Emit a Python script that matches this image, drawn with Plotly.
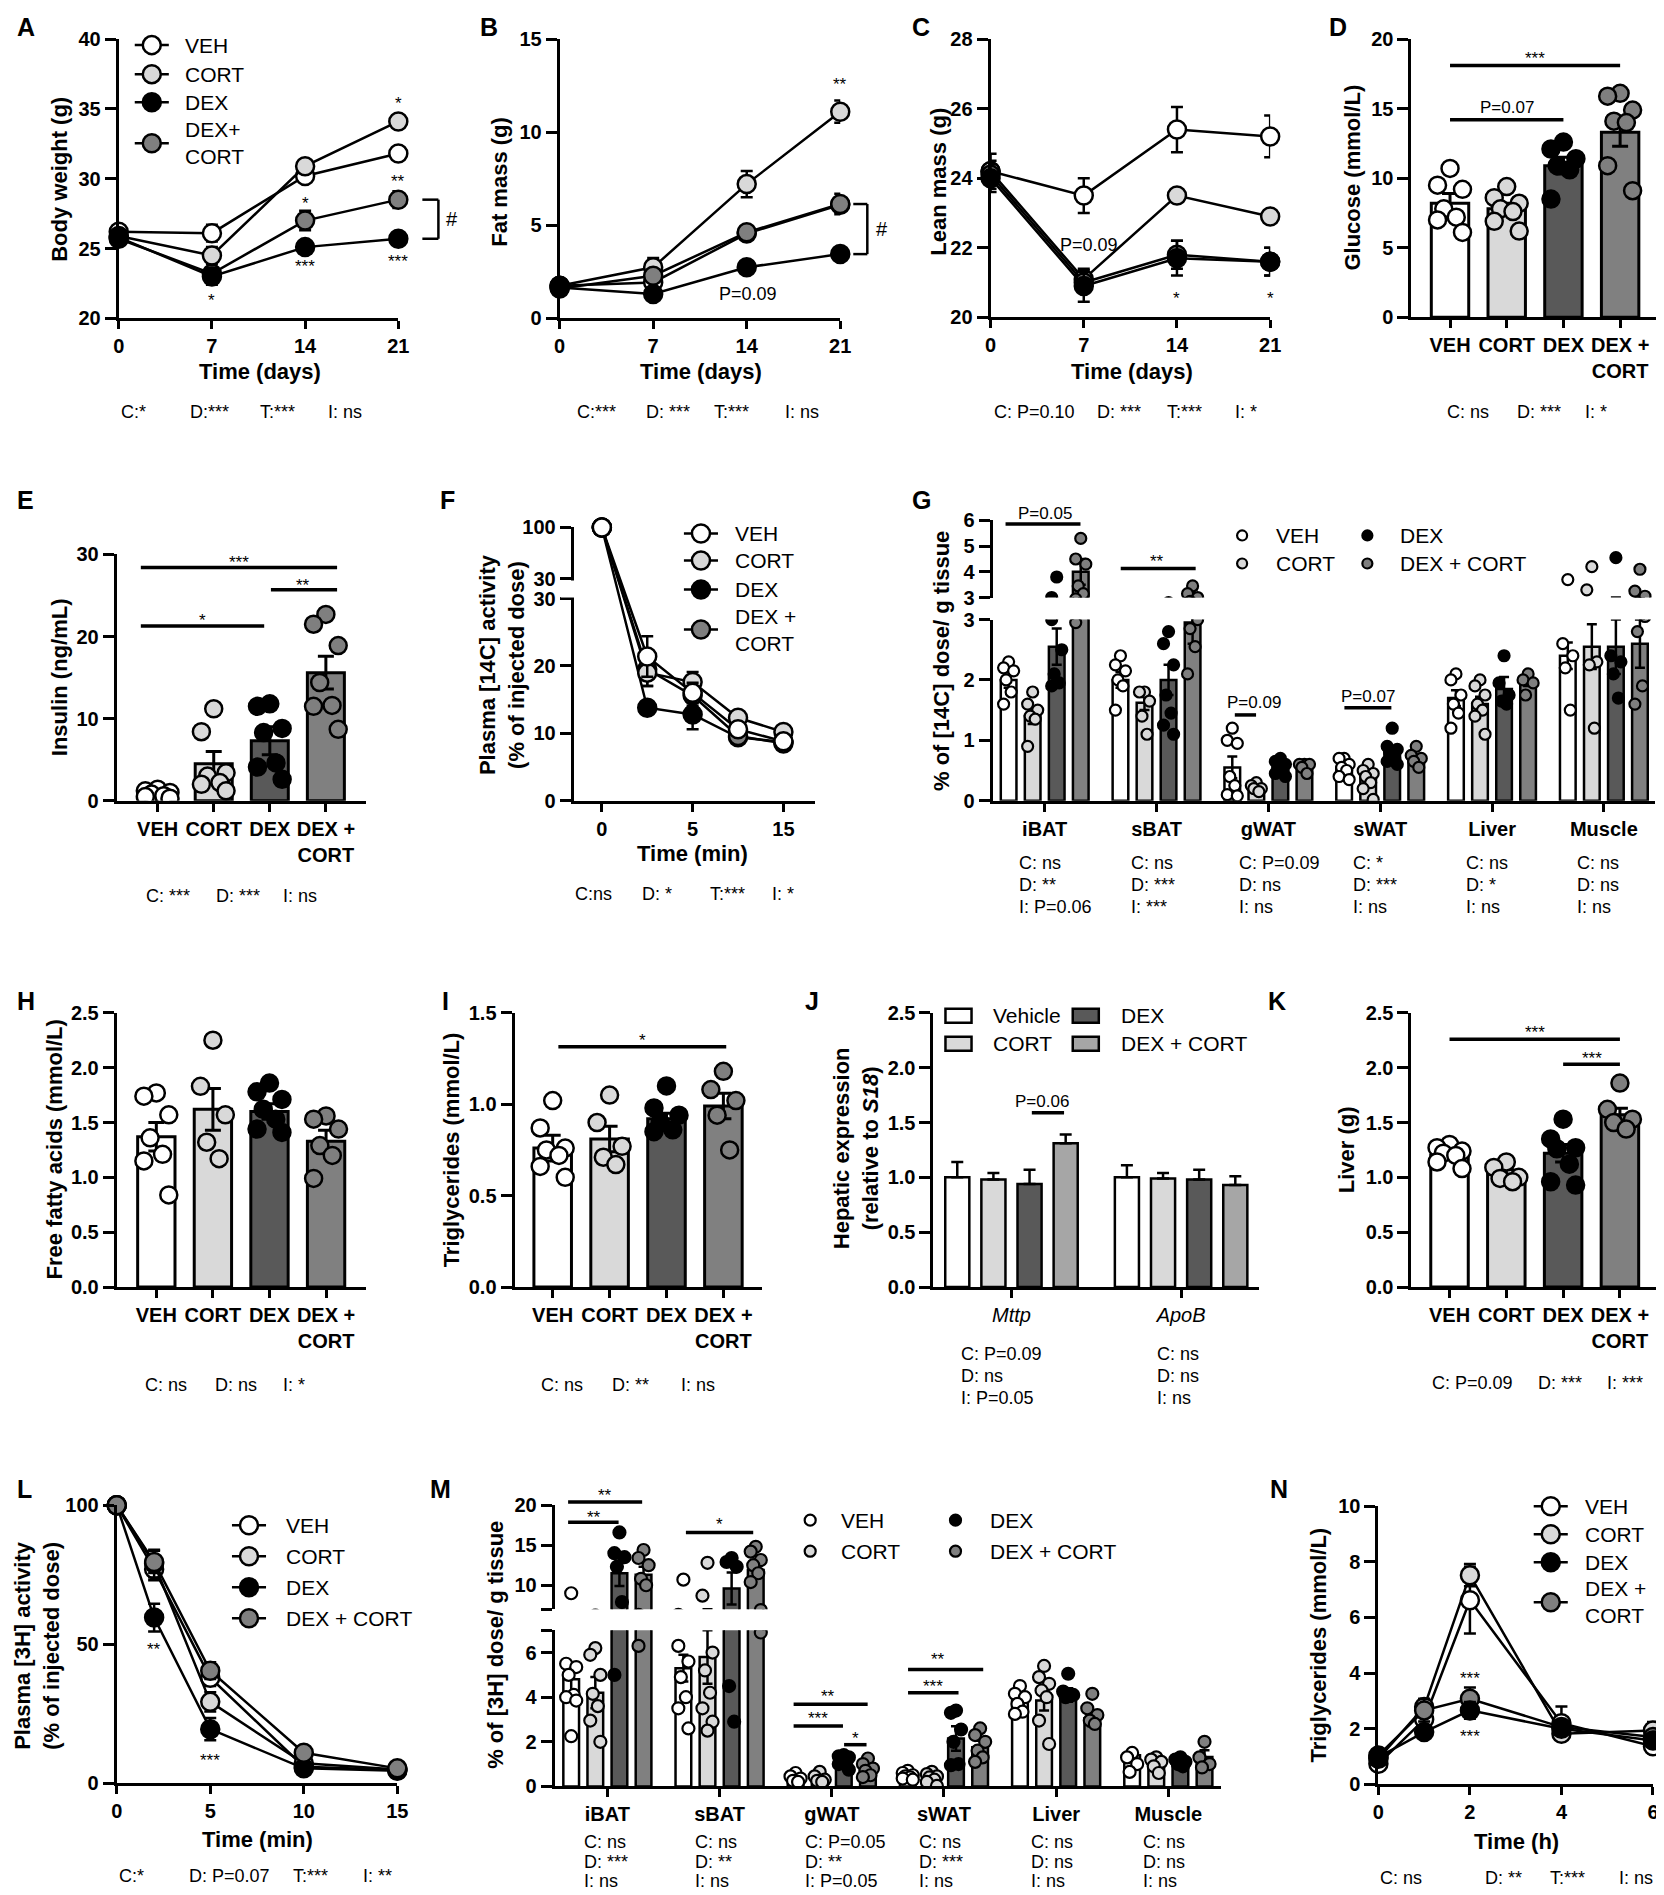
import plotly.graph_objects as go

# the page shows the figure shifted and slightly shrunk; these constants undo that,
# so that all positions below can be given in the pixels of the 1664 x 1895 picture
SHOT_X0, SHOT_Y0, SHOT_SCALE = 14.5, 16.9, 0.9877
W, H = 1666, 1900
FONT = "Liberation Sans, Arial, sans-serif"

GROUPS = ["VEH", "CORT", "DEX", "DEX + CORT"]
LINE_FILL = ["white", "#d9d9d9", "black", "#7f7f7f"]
BAR_FILL = ["white", "#d9d9d9", "#595959", "#808080"]
J_FILL = ["white", "#d9d9d9", "#595959", "#a6a6a6"]
BAR_TICKS = ["VEH", "CORT", "DEX", "DEX +<br>CORT"]

# ---------------- data (group order: VEH, CORT, DEX, DEX + CORT) ----------------
days = [0, 7, 14, 21]
bw_mean = [[26.2, 26.1, 30.2, 31.8], [25.9, 24.5, 30.9, 34.1],
           [25.8, 23.0, 25.1, 25.7], [25.7, 23.2, 27.0, 28.5]]
bw_sem = [[0.3, 0.6, 0.4, 0.3], [0.3, 0.6, 0.5, 0.4],
          [0.3, 0.6, 0.2, 0.3], [0.3, 0.5, 0.7, 0.6]]

fat_mean = [[1.75, 1.93, 4.55, 6.1], [1.75, 2.74, 7.21, 11.1],
            [1.65, 1.31, 2.74, 3.45], [1.6, 2.29, 4.62, 6.14]]
fat_sem = [[0.1, 0.3, 0.3, 0.4], [0.1, 0.5, 0.7, 0.6],
           [0.1, 0.15, 0.15, 0.2], [0.1, 0.3, 0.3, 0.55]]

lean_mean = [[24.2, 23.5, 25.4, 25.2], [24.2, 21.1, 23.5, 22.9],
             [24.0, 20.9, 21.7, 21.6], [24.1, 21.0, 21.8, 21.6]]
lean_sem = [[0.5, 0.5, 0.65, 0.6], [0.3, 0.3, 0.1, 0.15],
            [0.4, 0.45, 0.5, 0.4], [0.3, 0.3, 0.4, 0.4]]

glu_mean = [8.2, 7.8, 10.9, 13.3]
glu_sem = [0.7, 0.4, 0.6, 1.0]
glu_pts = [[10.7, 9.5, 9.2, 7.8, 7.2, 7.0, 6.1], [9.4, 8.6, 8.2, 7.8, 7.6, 6.9, 6.2],
           [12.6, 12.1, 11.4, 10.9, 10.6, 8.5], [16.1, 15.9, 14.9, 14.1, 14.0, 10.9, 9.1]]

ins_mean = [0.85, 4.5, 7.3, 15.6]
ins_sem = [0.2, 1.5, 1.7, 2.0]
ins_pts = [[1.4, 1.2, 1.0, 0.8, 0.6, 0.5, 0.3], [11.2, 8.4, 3.4, 3.0, 2.2, 2.0, 1.2],
           [11.8, 11.5, 8.8, 8.3, 4.6, 4.1, 2.6], [22.7, 21.5, 18.9, 14.4, 11.6, 11.5, 8.7]]

c14_times = [0, 2, 5, 10, 15]
c14_mean = [[100, 21.4, 16.0, 10.6, 8.8], [100, 19.0, 17.6, 12.3, 10.2],
            [100, 13.8, 12.8, 9.4, 8.7], [100, 19.5, 15.6, 9.6, 8.5]]
c14_sem = [[0, 3.0, 1.5, 0.6, 0.5], [0, 2.0, 1.5, 0.6, 0.4],
           [0, 1.0, 2.2, 0.6, 0.4], [0, 2.5, 1.5, 0.6, 0.4]]

tissues = ["iBAT", "sBAT", "gWAT", "sWAT", "Liver", "Muscle"]
g_mean = [[2.0, 2.0, 0.55, 0.55, 1.7, 2.4], [1.4, 1.62, 0.22, 0.4, 1.6, 2.55],
          [2.55, 2.0, 0.55, 0.82, 1.85, 2.55], [4.0, 2.95, 0.57, 0.7, 1.98, 2.6]]
g_sem = [[0.13, 0.13, 0.18, 0.07, 0.13, 0.22], [0.13, 0.12, 0.03, 0.08, 0.12, 0.37],
         [0.3, 0.25, 0.05, 0.08, 0.2, 0.45], [0.5, 0.35, 0.04, 0.06, 0.08, 0.4]]
g_pts = [
    [[2.3, 2.2, 2.15, 2.0, 1.8, 1.6], [2.4, 2.25, 2.15, 2.0, 1.9, 1.5],
     [1.2, 1.0, 0.95, 0.4, 0.25, 0.1, 0.08], [0.7, 0.7, 0.6, 0.55, 0.5, 0.4, 0.35],
     [2.1, 2.0, 1.75, 1.6, 1.45, 1.2], [3.7, 2.6, 2.4, 2.2, 1.5]],
    [[1.8, 1.6, 1.5, 1.4, 1.35, 0.9], [1.8, 1.8, 1.65, 1.4, 1.1],
     [0.3, 0.25, 0.2, 0.2, 0.15], [0.6, 0.5, 0.45, 0.4, 0.3, 0.2, 0.02],
     [2.0, 1.9, 1.75, 1.6, 1.5, 1.4, 1.1], [4.2, 3.3, 2.3, 2.25, 1.2]],
    [[3.8, 3.0, 2.5, 2.1, 1.95, 1.9], [2.8, 2.6, 2.25, 1.75, 1.45, 1.25, 1.1],
     [0.7, 0.65, 0.6, 0.55, 0.5, 0.45, 0.4], [1.2, 0.9, 0.85, 0.8, 0.7, 0.65, 0.6],
     [2.4, 1.95, 1.75, 1.65, 1.6], [4.55, 2.4, 2.3, 2.1, 1.7]],
    [[5.3, 4.5, 4.3, 3.45, 3.15, 2.95], [3.45, 3.15, 3.0, 2.85, 2.55, 2.1],
     [0.6, 0.6, 0.6, 0.55, 0.45], [0.9, 0.75, 0.7, 0.65, 0.55],
     [2.1, 2.0, 1.95, 1.75], [4.1, 3.25, 3.05, 2.8, 1.9, 1.6]],
]

ffa_mean = [1.37, 1.62, 1.6, 1.33]
ffa_sem = [0.13, 0.19, 0.07, 0.1]
ffa_pts = [[1.77, 1.74, 1.57, 1.36, 1.21, 1.15, 0.84], [2.25, 1.83, 1.57, 1.32, 1.17],
           [1.86, 1.78, 1.71, 1.62, 1.53, 1.44, 1.41], [1.56, 1.53, 1.44, 1.29, 1.2, 0.99]]

tg_mean = [0.76, 0.81, 0.92, 0.99]
tg_sem = [0.07, 0.07, 0.03, 0.07]
tg_pts = [[1.02, 0.87, 0.76, 0.75, 0.72, 0.66, 0.6], [1.05, 0.9, 0.77, 0.71, 0.67],
          [1.1, 0.98, 0.94, 0.9, 0.86, 0.85], [1.18, 1.08, 1.02, 0.94, 0.75]]

genes = ["Mttp", "ApoB"]
j_labels = ["Vehicle", "CORT", "DEX", "DEX + CORT"]
j_mean = [[1.0, 1.0], [0.98, 0.99], [0.94, 0.98], [1.31, 0.93]]
j_sem = [[0.14, 0.11], [0.06, 0.05], [0.13, 0.09], [0.08, 0.08]]

liv_mean = [1.2, 1.03, 1.22, 1.57]
liv_sem = [0.03, 0.04, 0.08, 0.06]
liv_pts = [[1.3, 1.27, 1.24, 1.22, 1.2, 1.14, 1.08], [1.14, 1.09, 1.0, 0.99, 0.96],
           [1.53, 1.35, 1.27, 1.26, 1.12, 0.96, 0.93], [1.86, 1.62, 1.53, 1.5, 1.44]]

h3_times = [0, 2, 5, 10, 15]
h3_mean = [[100, 77, 38, 6.0, 4.8], [100, 79, 29.3, 7.2, 5.0],
           [100, 59.6, 19.5, 5.4, 4.5], [100, 79.6, 40.5, 11.0, 5.4]]
h3_sem = [[0, 4, 3, 1, 0.5], [0, 5, 3.5, 1, 0.5], [0, 5, 4, 0.8, 0.5], [0, 4, 3, 1, 0.6]]

m_mean = [[4.8, 5.3, 0.4, 0.5, 3.9, 1.4], [4.2, 5.8, 0.35, 0.42, 3.85, 1.25],
          [11.5, 9.6, 1.15, 2.15, 4.1, 1.17], [11.3, 11.9, 0.85, 1.75, 3.05, 1.32]]
m_sem = [[0.6, 0.6, 0.08, 0.06, 0.2, 0.15], [0.7, 1.2, 0.07, 0.08, 0.45, 0.15],
         [1.6, 2.0, 0.1, 0.55, 0.3, 0.1], [1.0, 1.0, 0.12, 0.3, 0.35, 0.3]]
m_pts = [
    [[9.0, 5.5, 5.35, 5.0, 4.1, 4.0, 3.85, 2.25], [10.7, 6.3, 5.6, 4.9, 4.0, 3.5, 2.6],
     [0.6, 0.45, 0.35, 0.25, 0.2], [0.7, 0.6, 0.5, 0.45, 0.4, 0.35, 0.3],
     [4.5, 4.15, 4.0, 3.7, 3.35, 3.25], [1.5, 1.3, 1.0, 0.65]],
    [[6.2, 5.9, 5.0, 4.15, 3.6, 2.95, 2.0], [12.8, 8.7, 6.0, 5.2, 4.2, 3.5, 2.9, 2.5],
     [0.65, 0.45, 0.3, 0.25, 0.2], [0.65, 0.55, 0.45, 0.4, 0.3, 0.2, 0.02],
     [5.4, 4.9, 4.6, 4.3, 4.0, 2.95, 1.9], [1.3, 1.2, 1.1, 0.9, 0.6]],
    [[16.6, 14.0, 13.5, 12.3, 7.9, 5.0], [13.4, 12.9, 12.3, 4.5, 2.9],
     [1.4, 1.35, 1.3, 1.2, 1.1, 1.0, 0.75], [3.4, 3.3, 2.55, 2.0, 1.0, 0.95],
     [5.05, 4.25, 4.1, 4.0], [1.3, 1.2, 1.1, 1.0, 0.9]],
    [[14.4, 13.4, 12.5, 10.8, 10.0, 6.3], [14.8, 14.2, 13.15, 12.5, 11.5, 10.4, 6.9],
     [1.25, 1.0, 0.8, 0.7, 0.5, 0.42], [2.6, 2.3, 2.0, 1.6, 1.3, 1.1],
     [4.15, 3.5, 3.2, 2.95, 2.8], [2.0, 1.3, 1.0, 0.85]],
]

ot_hours = [0, 1, 2, 4, 6]
ot_mean = [[0.74, 2.33, 6.62, 2.2, 1.37], [0.92, 2.78, 7.52, 1.82, 1.94],
           [0.98, 1.88, 2.66, 2.0, 1.58], [1.04, 2.66, 3.08, 2.06, 1.7]]
ot_sem = [[0.1, 0.3, 1.2, 0.6, 0.25], [0.1, 0.3, 0.4, 0.2, 0.3],
          [0.1, 0.1, 0.3, 0.1, 0.15], [0.1, 0.4, 0.4, 0.15, 0.2]]

# ---------------- helpers ----------------
fig = go.Figure()
axes = {}
notes = []
shapes = []
count = [0]
JIT = [0, -1, 1, -0.5, 0.5, -1, 1, 0, -0.5]

AXIS = dict(showline=True, linecolor="black", linewidth=3, ticks="outside",
            tickwidth=3, tickcolor="black", showgrid=False, zeroline=False, fixedrange=True,
            tickfont=dict(family=FONT, size=20, color="black", weight="bold"))


def fx(px):
    return (px - SHOT_X0) / SHOT_SCALE / W


def fy(py):
    return 1 - (py - SHOT_Y0) / SHOT_SCALE / H


class Panel:
    def __init__(self, box, xr, yr, share=None):
        self.box, self.xr, self.yr = box, xr, yr
        count[0] += 1
        s = "" if count[0] == 1 else str(count[0])
        left, top, right, bottom = box
        if share is None:
            self.xa = "x" + s
            self.xkey = "xaxis" + s
            axes[self.xkey] = dict(domain=[fx(left), fx(right)], range=xr, anchor="y" + s, ticklen=8)
        else:
            self.xa, self.xkey = share.xa, share.xkey
        self.ya = "y" + s
        self.ykey = "yaxis" + s
        axes[self.ykey] = dict(domain=[fy(bottom), fy(top)], range=yr, anchor=self.xa, ticklen=11)

    def xt(self, vals, labels=None, **kw):
        axes[self.xkey].update(tickvals=vals, ticktext=labels or [str(v) for v in vals], **kw)

    def yt(self, vals, labels=None, **kw):
        axes[self.ykey].update(tickvals=vals, ticktext=labels or [str(v) for v in vals], **kw)

    def px(self, v):
        left, _, right, _ = self.box
        return left + (v - self.xr[0]) / (self.xr[1] - self.xr[0]) * (right - left)

    def py(self, v):
        _, top, _, bottom = self.box
        return bottom - (v - self.yr[0]) / (self.yr[1] - self.yr[0]) * (bottom - top)


def text(x, y, s, size=18, bold=False, italic=False, anchor="center", angle=0):
    if s.strip("*") == "":
        y += size * 0.25
    notes.append(dict(x=fx(x), y=fy(y), xref="paper", yref="paper", text=s, showarrow=False,
                      xanchor=anchor, yanchor="middle", textangle=angle, align=anchor,
                      font=dict(family=FONT, size=size, color="black",
                                weight="bold" if bold else "normal",
                                style="italic" if italic else "normal")))


def seg(x0, y0, x1, y1, w=3, color="black"):
    shapes.append(dict(type="line", xref="paper", yref="paper", x0=fx(x0), x1=fx(x1),
                       y0=fy(y0), y1=fy(y1), line=dict(color=color, width=w)))


def circle(cx, cy, d, fill, w=2.5):
    r = d / 2
    shapes.append(dict(type="circle", xref="paper", yref="paper", x0=fx(cx - r), x1=fx(cx + r),
                       y0=fy(cy + r), y1=fy(cy - r), fillcolor=fill,
                       line=dict(color="black", width=w)))


def sig(P, xa, xb, yv, label, ty, tx=None, size=17):
    y = P.py(yv)
    seg(P.px(xa), y, P.px(xb), y, 3.5)
    text(P.px((xa + xb) / 2 if tx is None else tx), P.py(ty), label, size)


def ytitle(x, y, s):
    text(x, y, s, 22, bold=True, angle=-90)


def xtitle(x, y, s):
    text(x, y, s, 22, bold=True)


def stats(y, items):
    for x, s in items:
        text(x, y, s, 18, anchor="left")


def ident(v):
    return v


def lines(P, xs, means, sems, order=(0, 1, 3, 2), size=18, tf=ident):
    for g in order:
        ys = [tf(m) for m in means[g]]
        up = [tf(m + e) - tf(m) for m, e in zip(means[g], sems[g])]
        dn = [tf(m) - tf(m - e) for m, e in zip(means[g], sems[g])]
        fig.add_trace(go.Scatter(
            x=xs, y=ys, xaxis=P.xa, yaxis=P.ya, mode="lines+markers", cliponaxis=False,
            line=dict(color="black", width=2.5),
            marker=dict(size=size, color=LINE_FILL[g], line=dict(color="black", width=2.5)),
            error_y=dict(type="data", symmetric=False, array=up, arrayminus=dn,
                         color="black", thickness=2.5, width=6),
            showlegend=False, hoverinfo="skip"))


def bars(P, means, sems, pts, size=17, spread=0.22):
    xs = list(range(len(means)))
    fig.add_trace(go.Bar(
        x=xs, y=means, width=0.66, xaxis=P.xa, yaxis=P.ya,
        marker=dict(color=BAR_FILL, line=dict(color="black", width=3)),
        error_y=dict(type="data", array=sems, color="black", thickness=3, width=8),
        showlegend=False, hoverinfo="skip"))
    for g, vals in enumerate(pts):
        fig.add_trace(go.Scatter(
            x=[g + JIT[i % len(JIT)] * spread for i in range(len(vals))], y=vals,
            xaxis=P.xa, yaxis=P.ya, mode="markers",
            marker=dict(size=size, color=LINE_FILL[g], line=dict(color="black", width=2.5)),
            showlegend=False, hoverinfo="skip"))


def group_bars(P, means, sems, pts, size=11, step=0.215, width=0.14, spread=0.045):
    for g in range(4):
        xs = [c + (g - 1.5) * step for c in range(len(means[g]))]
        fig.add_trace(go.Bar(
            x=xs, y=means[g], width=width, xaxis=P.xa, yaxis=P.ya,
            marker=dict(color=BAR_FILL[g], line=dict(color="black", width=2.5)),
            error_y=dict(type="data", array=sems[g], color="black", thickness=2.5, width=5),
            showlegend=False, hoverinfo="skip"))
        px_, py_ = [], []
        for c, vals in enumerate(pts[g]):
            for i, v in enumerate(vals):
                px_.append(xs[c] + JIT[i % len(JIT)] * spread)
                py_.append(v)
        fig.add_trace(go.Scatter(
            x=px_, y=py_, xaxis=P.xa, yaxis=P.ya, mode="markers",
            marker=dict(size=size, color=LINE_FILL[g], line=dict(color="black", width=2.2)),
            showlegend=False, hoverinfo="skip"))


def line_legend(mx, tx, rows, size=18):
    for g, (cy, label) in enumerate(rows):
        seg(mx - 17, cy, mx + 17, cy, 2.5)
        circle(mx, cy, size, LINE_FILL[g])
        if isinstance(label, tuple):
            text(tx, cy - 13.5, label[0], 21, anchor="left")
            text(tx, cy + 13.5, label[1], 21, anchor="left")
        else:
            text(tx, cy, label, 21, anchor="left")


def dot_legend(cols, rows, size=10):
    for g in range(4):
        mx, tx = cols[g // 2]
        cy = rows[g % 2]
        circle(mx, cy, size, LINE_FILL[g], 2.2)
        text(tx, cy, GROUPS[g], 21, anchor="left")


# broken y axis of panel F: 0-30 on 202 px, a 20 px gap, then 30-100 on 51 px
F_LOW_PX, F_GAP_PX, F_UP_PX = 202 / 30, 20, 51 / 70


def f_break(v):
    if v <= 30:
        return v
    return 30 + F_GAP_PX / F_LOW_PX + (v - 30) * F_UP_PX / F_LOW_PX


# ---------------- panels ----------------
pA = Panel((119, 37, 398, 316), [0, 21], [20, 40])
pB = Panel((559, 37, 839, 316), [0, 21], [0, 15])
pC = Panel((989, 37, 1268, 315), [0, 21], [20, 28])
pD = Panel((1409, 37, 1654, 315), [-0.68, 3.65], [0, 20])
pE = Panel((117, 552, 366, 798), [-0.73, 3.72], [0, 30])
pF = Panel((573, 525, 814, 798), [-0.62, 4.7], [0, f_break(100)])
pG = Panel((991, 617, 1652, 798), [-0.466, 5.457], [0, 3])
pG2 = Panel((991, 518, 1652, 595), [-0.466, 5.457], [3, 6], share=pG)
pH = Panel((117, 1010, 366, 1284), [-0.70, 3.71], [0, 2.5])
pI = Panel((514, 1010, 761, 1284), [-0.67, 3.68], [0, 1.5])
pJ = Panel((932, 1010, 1257, 1284), [-0.46, 1.46], [0, 2.5])
pK = Panel((1409, 1010, 1655, 1284), [-0.67, 3.67], [0, 2.5])
pL = Panel((117, 1502, 397, 1780), [0, 15], [0, 100])
pM = Panel((554, 1627, 1219, 1783), [-0.47, 5.47], [0, 7])
pM2 = Panel((554, 1502, 1219, 1606), [-0.47, 5.47], [7, 20], share=pM)
pN = Panel((1376, 1503, 1650, 1781), [0, 6], [0, 10])

# A
lines(pA, days, bw_mean, bw_sem)
pA.xt(days); pA.yt([20, 25, 30, 35, 40])
for x, v, s in [(21, 35.7, "*"), (21, 30.1, "**"), (14, 28.5, "*"), (14, 24.0, "***"),
                (21, 24.4, "***"), (7, 21.6, "*")]:
    text(pA.px(x), pA.py(v), s, 17)
seg(422, pA.py(28.5), 438, pA.py(28.5), 2.5); seg(438, pA.py(28.5), 438, pA.py(25.7), 2.5)
seg(422, pA.py(25.7), 438, pA.py(25.7), 2.5)
text(452, pA.py(27.1), "#", 20)
line_legend(152, 183, [(43, "VEH"), (72, "CORT"), (100, "DEX"), (141, ("DEX+", "CORT"))])
ytitle(60, 177, "Body weight (g)")
xtitle(260, 369, "Time (days)")
stats(410, [(119, "C:*"), (188, "D:***"), (258, "T:***"), (326, "I: ns")])

# B
lines(pB, days, fat_mean, fat_sem)
pB.xt(days); pB.yt([0, 5, 10, 15])
text(pB.px(21), pB.py(12.8), "**", 17)
text(pB.px(14.1), pB.py(1.3), "P=0.09", 18)
seg(852, pB.py(6.14), 866, pB.py(6.14), 2.5); seg(866, pB.py(6.14), 866, pB.py(3.45), 2.5)
seg(852, pB.py(3.45), 866, pB.py(3.45), 2.5)
text(881, pB.py(4.8), "#", 20)
ytitle(499, 180, "Fat mass (g)")
xtitle(700, 369, "Time (days)")
stats(410, [(574, "C:***"), (643, "D: ***"), (711, "T:***"), (782, "I: ns")])

# C
lines(pC, days, lean_mean, lean_sem)
pC.xt(days); pC.yt([20, 22, 24, 26, 28])
text(1087, 243, "P=0.09", 18)
text(pC.px(14), pC.py(20.67), "*", 17)
text(pC.px(21), pC.py(20.67), "*", 17)
ytitle(937, 179, "Lean mass (g)")
xtitle(1130, 369, "Time (days)")
stats(410, [(990, "C: P=0.10"), (1093, "D: ***"), (1163, "T:***"), (1231, "I: *")])

# D
bars(pD, glu_mean, glu_sem, glu_pts)
pD.xt([0, 1, 2, 3], BAR_TICKS); pD.yt([0, 5, 10, 15, 20])
sig(pD, 0, 3, 18.1, "***", 18.9)
sig(pD, 0, 2, 14.2, "P=0.07", 15.1)
ytitle(1350, 175, "Glucose (mmol/L)")
stats(410, [(1442, "C: ns"), (1512, "D: ***"), (1580, "I: *")])

# E
bars(pE, ins_mean, ins_sem, ins_pts)
pE.xt([0, 1, 2, 3], BAR_TICKS); pE.yt([0, 10, 20, 30])
sig(pE, -0.3, 3.2, 28.4, "***", 29.6, 1.45)
sig(pE, 2.02, 3.2, 25.7, "**", 26.8, 2.6)
sig(pE, -0.3, 1.9, 21.3, "*", 22.5, 0.8)
ytitle(60, 675, "Insulin (ng/mL)")
stats(893, [(144, "C: ***"), (214, "D: ***"), (281, "I: ns")])

# F (broken y axis, time points at equal spacing)
f_idx = list(range(len(c14_times)))
lines(pF, f_idx, c14_mean, c14_sem, order=(2, 3, 1, 0), tf=f_break)
pF.xt([0, 2, 4], [str(c14_times[i]) for i in (0, 2, 4)])
pF.yt([0, 10, 20, 30, 30 + F_GAP_PX / F_LOW_PX, f_break(100)],
      ["0", "10", "20", "30", "30", "100"])
shapes.append(dict(type="rect", xref="paper", yref="paper", x0=fx(560), x1=fx(582),
                   y0=fy(595), y1=fy(578), fillcolor="white", line=dict(width=0), layer="above"))
line_legend(700, 732, [(531, "VEH"), (558, "CORT"), (587, "DEX"), (627, ("DEX +", "CORT"))])
ytitle(501, 662, "Plasma [14C] activity<br>(% of injected dose)")
xtitle(692, 851, "Time (min)")
stats(891, [(572, "C:ns"), (639, "D: *"), (707, "T:***"), (769, "I: *")])

# G (broken axis)
group_bars(pG, g_mean, g_sem, g_pts)
group_bars(pG2, g_mean, g_sem, g_pts)
pG.xt(list(range(6)), tissues); pG.yt([0, 1, 2, 3]); pG2.yt([3, 4, 5, 6])
sig(pG2, -0.35, 0.32, 5.86, "P=0.05", 6.29, 0.0)
sig(pG2, 0.68, 1.35, 4.13, "**", 4.56, 1.0)
sig(pG, 1.7, 1.89, 1.42, "P=0.09", 1.62, 1.87)
sig(pG, 2.68, 3.1, 1.54, "P=0.07", 1.72, 2.89)
dot_legend([(1240, 1272), (1365, 1396)], [533, 561])
ytitle(940, 658, "% of [14C] dose/ g tissue")
g_stats = [["C: ns", "D: **", "I: P=0.06"], ["C: ns", "D: ***", "I: ***"],
           ["C: P=0.09", "D: ns", "I: ns"], ["C: *", "D: ***", "I: ns"],
           ["C: ns", "D: *", "I: ns"], ["C: ns", "D: ns", "I: ns"]]
for x, rows in zip([1015, 1127, 1235, 1349, 1461, 1572], g_stats):
    for y, s in zip([860, 882, 904], rows):
        text(x, y, s, 18, anchor="left")

# H
ONE_DEC = ["0.0", "0.5", "1.0", "1.5", "2.0", "2.5"]
bars(pH, ffa_mean, ffa_sem, ffa_pts)
pH.xt([0, 1, 2, 3], BAR_TICKS); pH.yt([0, 0.5, 1, 1.5, 2, 2.5], ONE_DEC)
ytitle(55, 1147, "Free fatty acids (mmol/L)")
stats(1382, [(143, "C: ns"), (213, "D: ns"), (281, "I: *")])

# I
bars(pI, tg_mean, tg_sem, tg_pts)
pI.xt([0, 1, 2, 3], BAR_TICKS); pI.yt([0, 0.5, 1, 1.5], ONE_DEC[:4])
sig(pI, 0.1, 3.05, 1.315, "*", 1.37)
ytitle(451, 1147, "Triglycerides (mmol/L)")
stats(1382, [(538, "C: ns"), (609, "D: **"), (678, "I: ns")])

# J
for g in range(4):
    fig.add_trace(go.Bar(
        x=[c + (g - 1.5) * 0.213 for c in range(len(genes))], y=j_mean[g], width=0.142,
        xaxis=pJ.xa, yaxis=pJ.ya, marker=dict(color=J_FILL[g], line=dict(color="black", width=2.5)),
        error_y=dict(type="data", symmetric=False, array=j_sem[g], arrayminus=[0] * len(genes),
                     color="black", thickness=2.5, width=6),
        showlegend=False, hoverinfo="skip"))
pJ.xt([0, 1], genes, tickfont=dict(family=FONT, size=20, color="black", style="italic"))
pJ.yt([0, 0.5, 1, 1.5, 2, 2.5], ONE_DEC)
sig(pJ, 0.12, 0.31, 1.59, "P=0.06", 1.69, 0.18)
for g in range(4):
    bx = [957, 1084][g // 2]
    by = [1013, 1041][g % 2]
    shapes.append(dict(type="rect", xref="paper", yref="paper", x0=fx(bx - 13), x1=fx(bx + 13),
                       y0=fy(by + 7), y1=fy(by - 7), fillcolor=J_FILL[g],
                       line=dict(color="black", width=2.5)))
    text([989, 1117][g // 2], by, j_labels[g], 21, anchor="left")
ytitle(855, 1145, "Hepatic expression<br>(relative to <i>S18</i>)")
for x, rows in zip([957, 1153], [["C: P=0.09", "D: ns", "I: P=0.05"], ["C: ns", "D: ns", "I: ns"]]):
    for y, s in zip([1351, 1373, 1395], rows):
        text(x, y, s, 18, anchor="left")

# K
bars(pK, liv_mean, liv_sem, liv_pts)
pK.xt([0, 1, 2, 3], BAR_TICKS); pK.yt([0, 0.5, 1, 1.5, 2, 2.5], ONE_DEC)
sig(pK, 0, 3, 2.26, "***", 2.36, 1.5)
sig(pK, 2, 3, 2.03, "***", 2.12, 2.5)
ytitle(1345, 1147, "Liver (g)")
stats(1380, [(1428, "C: P=0.09"), (1533, "D: ***"), (1602, "I: ***")])

# L
lines(pL, h3_times, h3_mean, h3_sem, order=(0, 1, 2, 3))
pL.xt([0, 5, 10, 15]); pL.yt([0, 50, 100])
text(pL.px(2), pL.py(49.7), "**", 17)
text(pL.px(5), pL.py(9.8), "***", 17)
line_legend(249, 284, [(1522, "VEH"), (1553, "CORT"), (1584, "DEX"), (1615, "DEX + CORT")])
ytitle(38, 1642, "Plasma [3H] activity<br>(% of injected dose)")
xtitle(257, 1836, "Time (min)")
stats(1873, [(117, "C:*"), (187, "D: P=0.07"), (291, "T:***"), (361, "I: **")])

# M (broken axis)
group_bars(pM, m_mean, m_sem, m_pts, size=12)
group_bars(pM2, m_mean, m_sem, m_pts, size=12)
pM.xt(list(range(6)), tissues); pM.yt([0, 2, 4, 6, 7], ["0", "2", "4", "6", ""])
pM2.yt([7, 10, 15, 20], ["", "10", "15", "20"])
sig(pM2, -0.35, 0.31, 20.4, "**", 21.8, -0.02)
sig(pM2, -0.35, 0.1, 17.86, "**", 19.0, -0.12)
sig(pM2, 0.7, 1.3, 16.6, "*", 18.1, 1.0)
sig(pM, 1.66, 2.32, 3.68, "**", 4.23, 1.97)
sig(pM, 1.66, 2.1, 2.71, "***", 3.23, 1.88)
sig(pM, 2.11, 2.31, 1.87, "*", 2.33, 2.21)
sig(pM, 2.68, 3.35, 5.24, "**", 5.88, 2.95)
sig(pM, 2.68, 3.13, 4.2, "***", 4.68, 2.9)
dot_legend([(809, 838), (954, 986)], [1517, 1548], size=11)
ytitle(495, 1642, "% of [3H] dose/ g tissue")
m_stats = [["C: ns", "D: ***", "I: ns"], ["C: ns", "D: **", "I: ns"],
           ["C: P=0.05", "D: **", "I: P=0.05"], ["C: ns", "D: ***", "I: ns"],
           ["C: ns", "D: ns", "I: ns"], ["C: ns", "D: ns", "I: ns"]]
for x, rows in zip([581, 692, 802, 916, 1027, 1139], m_stats):
    for y, s in zip([1839, 1859, 1878], rows):
        text(x, y, s, 18, anchor="left")

# N
lines(pN, ot_hours, ot_mean, ot_sem)
pN.xt([0, 2, 4, 6]); pN.yt([0, 2, 4, 6, 8, 10])
text(pN.px(2), pN.py(3.96), "***", 17)
text(pN.px(2), pN.py(1.88), "***", 17)
line_legend(1548, 1580, [(1503, "VEH"), (1531, "CORT"), (1559, "DEX"), (1599, ("DEX +", "CORT"))])
ytitle(1316, 1642, "Triglycerides (mmol/L)")
xtitle(1514, 1838, "Time (h)")
stats(1875, [(1376, "C: ns"), (1480, "D: **"), (1545, "T:***"), (1614, "I: ns")])

# panel letters
for s, x, y in [("A", 15, 25), ("B", 478, 25), ("C", 909, 25), ("D", 1325, 25),
                ("E", 15, 498), ("F", 438, 498), ("G", 909, 498),
                ("H", 15, 998), ("I", 440, 998), ("J", 802, 998), ("K", 1264, 998),
                ("L", 15, 1486), ("M", 428, 1486), ("N", 1266, 1486)]:
    text(x, y, s, 25, bold=True, anchor="left")

for key in axes:
    merged = dict(AXIS)
    merged.update(axes[key])
    axes[key] = merged

fig.update_layout(width=W, height=H, margin=dict(l=0, r=0, t=0, b=0),
                  paper_bgcolor="white", plot_bgcolor="white", barmode="overlay",
                  showlegend=False, annotations=notes, shapes=shapes,
                  font=dict(family=FONT, color="black"), **axes)

fig.write_html("out.html")
